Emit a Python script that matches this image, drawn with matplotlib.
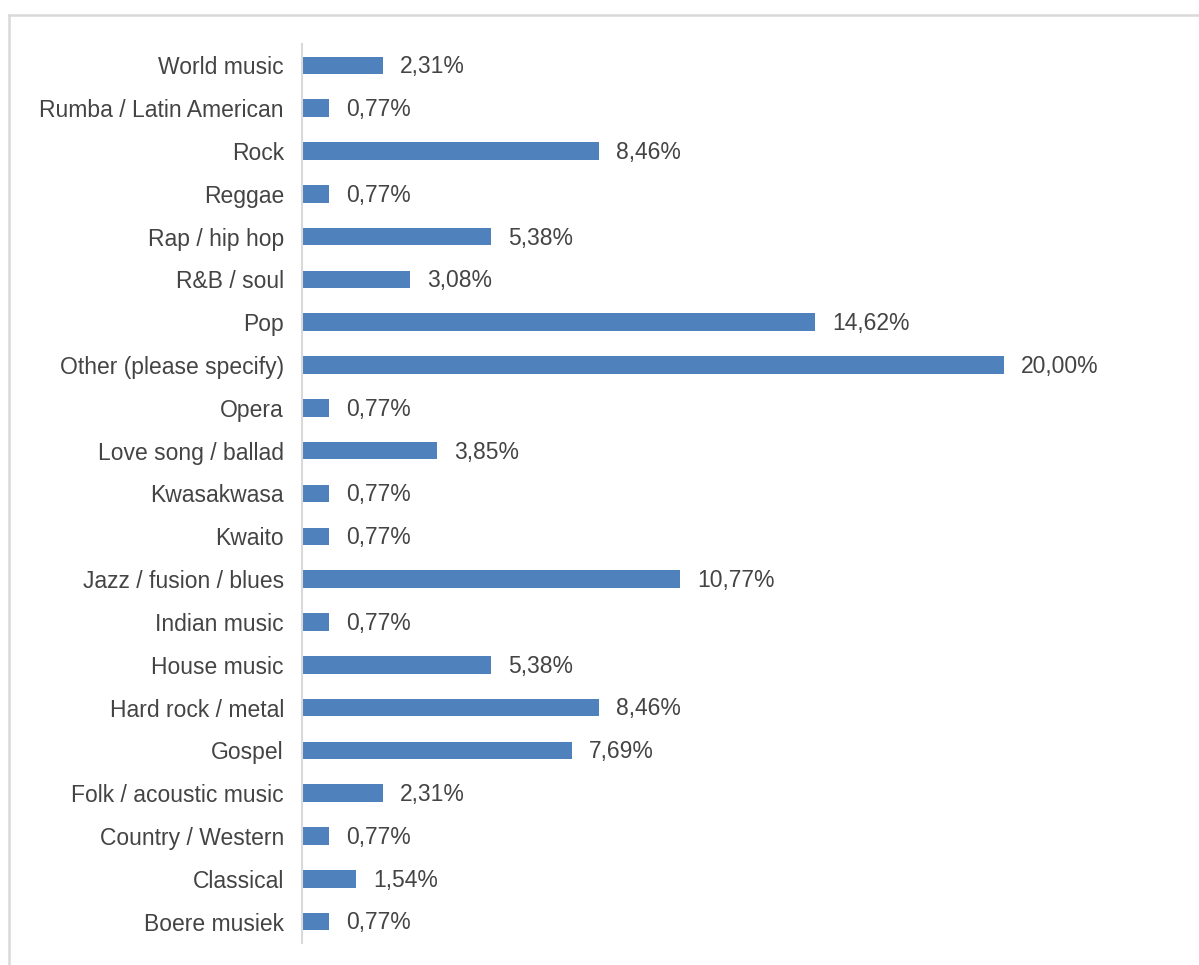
import matplotlib.pyplot as plt
from matplotlib.lines import Line2D

genres = ['World music', 'Rumba / Latin American', 'Rock', 'Reggae',
          'Rap / hip hop', 'R&B / soul', 'Pop', 'Other (please specify)',
          'Opera', 'Love song / ballad', 'Kwasakwasa', 'Kwaito',
          'Jazz / fusion / blues', 'Indian music', 'House music',
          'Hard rock / metal', 'Gospel', 'Folk / acoustic music',
          'Country / Western', 'Classical', 'Boere musiek']
shares = [2.31, 0.77, 8.46, 0.77, 5.38, 3.08, 14.62, 20.00, 0.77, 3.85,
          0.77, 0.77, 10.77, 0.77, 5.38, 8.46, 7.69, 2.31, 0.77, 1.54, 0.77]

plt.rcParams['font.family'] = ['Liberation Sans', 'DejaVu Sans']
text_col = '#444444'
fs = 16.5

fig = plt.figure(figsize=(11.99, 9.65), dpi=100)
ax = fig.add_axes([302 / 1199, 22 / 965, 878 / 1199, 899 / 965])

ypos = list(range(len(genres)))
bars = ax.barh(ypos, shares, height=0.41, color='#4F81BD')
ax.set_ylim(len(genres) - 0.5, -0.5)
ax.set_xlim(0, 25)

for b, v in zip(bars, shares):
    ax.annotate(f'{v:.2f}%'.replace('.', ','),
                (b.get_width(), b.get_y() + b.get_height() / 2),
                xytext=(12, -1), textcoords='offset points',
                va='center', ha='left', fontsize=fs, color=text_col)

ax.set_yticks(ypos)
ax.set_yticklabels(genres, fontsize=fs, color=text_col)
ax.tick_params(axis='y', length=0, pad=13)
ax.set_xticks([])
for s in ['top', 'right', 'bottom']:
    ax.spines[s].set_visible(False)
ax.spines['left'].set_color('#D9D9D9')
ax.spines['left'].set_linewidth(1.5)

# chart frame, only its top and left edges fall inside the image
fig.add_artist(Line2D([9 / 1199, 9 / 1199], [0, 1 - 15 / 965],
                      transform=fig.transFigure, color='#D9D9D9', lw=1.8))
fig.add_artist(Line2D([9 / 1199, 1], [1 - 15 / 965, 1 - 15 / 965],
                      transform=fig.transFigure, color='#D9D9D9', lw=1.8))

fig.savefig('out.png', dpi=100)
